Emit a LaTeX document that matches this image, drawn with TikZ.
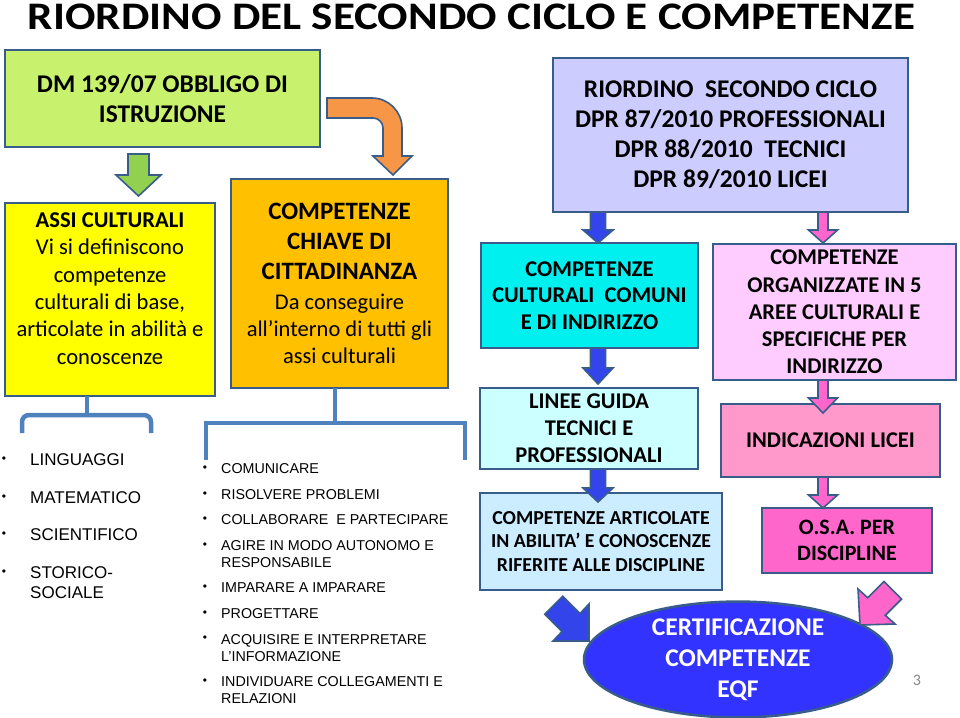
\documentclass[tikz,border=0pt]{standalone}
\usepackage{fontspec}
\setmainfont{Carlito}
\newfontfamily\arialf{Liberation Sans}
\usetikzlibrary{shapes.geometric}
\definecolor{bord}{RGB}{56,93,138}
\definecolor{brc}{RGB}{79,129,189}
\definecolor{dmgreen}{RGB}{200,242,110}
\definecolor{arrgreen}{RGB}{146,208,80}
\definecolor{yel}{RGB}{255,255,0}
\definecolor{orabox}{RGB}{255,192,0}
\definecolor{oraarr}{RGB}{247,150,70}
\definecolor{lav}{RGB}{204,204,255}
\definecolor{cyanbox}{RGB}{0,240,240}
\definecolor{lpink}{RGB}{255,204,255}
\definecolor{lcyan}{RGB}{204,255,255}
\definecolor{mpink}{RGB}{255,153,204}
\definecolor{lblue}{RGB}{204,236,255}
\definecolor{hpink}{RGB}{255,102,204}
\definecolor{ellblue}{RGB}{51,51,255}
\definecolor{arrblue}{RGB}{51,68,235}
\definecolor{pgray}{RGB}{137,137,137}
\newcommand{\dnarrow}[7]{%
  \draw[blockarr, fill=#7] (#1-#5,#2) -- (#1+#5,#2) -- (#1+#5,#3) -- (#1+#6,#3) -- (#1,#4) -- (#1-#6,#3) -- (#1-#5,#3) -- cycle;}
\begin{document}
\begin{tikzpicture}[x=1pt,y=-1pt,
  box/.style={draw=bord, line width=2.5pt, inner sep=0pt, align=center},
  blockarr/.style={draw=bord, line width=1.6pt, line join=miter},
  bracestyle/.style={draw=brc, line width=4.5pt},
  litem/.style={anchor=west, inner sep=0pt, align=left, font=\arialf\fontsize{17}{20}\selectfont},
  ritem/.style={anchor=west, inner sep=0pt, align=left, font=\arialf\fontsize{14.3}{17}\selectfont},
  bul/.style={inner sep=0pt, font=\arialf\fontsize{12}{12}\selectfont}]
\useasboundingbox (0,0) rectangle (960,717);
\fill[white] (0,0) rectangle (960,717);

% title
\node[anchor=base, inner sep=0pt, xscale=1.156, font=\bfseries\fontsize{39}{39}\selectfont] (title) at (471.5,30) {RIORDINO DEL SECONDO CICLO E COMPETENZE};

% boxes
\node[box, fill=dmgreen, minimum width=315pt, minimum height=97pt, font=\bfseries\fontsize{25.5}{30}\selectfont] (dm) at (162.5,98.5) {DM 139/07 OBBLIGO DI\\ISTRUZIONE};
\node[box, fill=yel, minimum width=210pt, minimum height=193pt] (yb) at (110,299.5) {};
\node[inner sep=0pt, align=center, font=\fontsize{22.6}{27.4}\selectfont] (ybt) at (110,288.5) {\textbf{ASSI CULTURALI}\\Vi si definiscono\\competenze\\culturali di base,\\articolate in abilità e\\conoscenze};
\node[box, fill=orabox, minimum width=217pt, minimum height=209pt, font=\fontsize{22.5}{27}\selectfont] (ob) at (339.5,283.5) {{\bfseries\fontsize{25}{27}\selectfont COMPETENZE}\\[3pt]{\bfseries\fontsize{25}{27}\selectfont CHIAVE DI}\\[3pt]{\bfseries\fontsize{25}{27}\selectfont CITTADINANZA}\\[3pt]Da conseguire\\all’interno di tutti gli\\assi culturali};
\node[box, fill=lav, minimum width=355pt, minimum height=154pt, font=\bfseries\fontsize{25.5}{30}\selectfont] (dpr) at (730.5,135) {RIORDINO\ \ SECONDO CICLO\\DPR 87/2010 PROFESSIONALI\\DPR 88/2010\ \ TECNICI\\DPR 89/2010 LICEI};
\node[box, fill=cyanbox, minimum width=217pt, minimum height=105pt, font=\bfseries\fontsize{22.5}{26.5}\selectfont] (cy) at (589.5,295.5) {COMPETENZE\\CULTURALI\ \ COMUNI\\E DI INDIRIZZO};
\node[box, fill=lpink, minimum width=243pt, minimum height=136pt, font=\bfseries\fontsize{22.5}{27.2}\selectfont] (pk) at (834.5,312) {COMPETENZE\\ORGANIZZATE IN 5\\AREE CULTURALI E\\SPECIFICHE PER\\INDIRIZZO};
\node[box, fill=lcyan, minimum width=218pt, minimum height=81pt, font=\bfseries\fontsize{22.5}{27}\selectfont] (lg) at (589,428.5) {LINEE GUIDA\\TECNICI E\\PROFESSIONALI};
\node[box, fill=mpink, minimum width=219pt, minimum height=73pt, font=\bfseries\fontsize{22.5}{27}\selectfont] (ind) at (830.5,440.5) {INDICAZIONI LICEI};
\node[box, fill=lblue, minimum width=242pt, minimum height=97pt, font=\bfseries\fontsize{19.8}{23.5}\selectfont] (art) at (601,541.5) {COMPETENZE ARTICOLATE\\IN ABILITA’ E CONOSCENZE\\RIFERITE ALLE DISCIPLINE};
\node[box, fill=hpink, minimum width=170pt, minimum height=65pt, font=\bfseries\fontsize{22}{26}\selectfont] (osa) at (847,540.5) {O.S.A. PER\\DISCIPLINE};
\node[ellipse, draw=bord, line width=2.5pt, fill=ellblue, inner sep=0pt, minimum width=308pt, minimum height=111pt, align=center, text=white, font=\bfseries\fontsize{25.5}{31}\selectfont] (eqf) at (738,659.5) {CERTIFICAZIONE\\COMPETENZE\\EQF};

% green arrow
\draw[blockarr, fill=arrgreen] (128,154) -- (149,154) -- (149,175) -- (161,175) -- (138.5,196) -- (116,175) -- (128,175) -- cycle;
% orange bent arrow
\draw[blockarr, fill=oraarr] (327,98) -- (372,98) .. controls (388.5,98) and (402,111.5) .. (402,128) -- (402,156) -- (412,156) -- (393,175) -- (373,156) -- (383,156) -- (383,128) .. controls (383,122.5) and (378.5,118) .. (373,118) -- (327,118) -- cycle;

% blue down arrows
\dnarrow{598}{212}{230}{243}{7.5}{15}{arrblue}
\dnarrow{598}{348}{368}{384}{7.5}{15}{arrblue}
\dnarrow{598}{469}{488}{502}{7.5}{15}{arrblue}
% pink down arrows
\dnarrow{823}{212}{230}{243}{5}{14.5}{hpink}
\dnarrow{823}{380}{398}{413}{5}{14.5}{hpink}
\dnarrow{823}{477}{495}{508}{5}{14.5}{hpink}

% diagonal arrows
\draw[blockarr, fill=arrblue] (544.8,614.3) -- (562.8,596.3) -- (580,613.5) -- (589,604) -- (589,641) -- (553,641) -- (562,631.5) -- cycle;
\draw[blockarr, fill=hpink] (858,589) -- (867.7,597.7) -- (883.9,581.5) -- (901.5,599.1) -- (885.3,615.3) -- (895,624) -- (860,625) -- cycle;

% braces
\draw[bracestyle] (87,396) -- (87,415);
\draw[bracestyle, rounded corners=7pt] (22,433) -- (22,415) -- (151,415) -- (151,433);
\draw[bracestyle] (335,388) -- (335,423);
\draw[bracestyle] (206,460) -- (206,423) -- (465,423) -- (465,460);

% left list
\node[bul] (lb1) at (4,460) {•};
\node[litem] (l1) at (30,460) {LINGUAGGI};
\node[bul] (lb2) at (4,498) {•};
\node[litem] (l2) at (30,498) {MATEMATICO};
\node[bul] (lb3) at (4,535) {•};
\node[litem] (l3) at (30,535) {SCIENTIFICO};
\node[bul] (lb4) at (4,573) {•};
\node[litem] (l4) at (30,583) {STORICO-\\SOCIALE};

% right list
\node[bul] (rb1) at (205,469) {•};
\node[ritem] (r1) at (221,469) {COMUNICARE};
\node[bul] (rb2) at (205,495) {•};
\node[ritem] (r2) at (221,495) {RISOLVERE PROBLEMI};
\node[bul] (rb3) at (205,520) {•};
\node[ritem] (r3) at (221,520) {COLLABORARE\ \ E PARTECIPARE};
\node[bul] (rb4) at (205,546) {•};
\node[ritem] (r4) at (221,554.5) {AGIRE IN MODO AUTONOMO E\\RESPONSABILE};
\node[bul] (rb5) at (205,588) {•};
\node[ritem] (r5) at (221,588) {IMPARARE A IMPARARE};
\node[bul] (rb6) at (205,614) {•};
\node[ritem] (r6) at (221,614) {PROGETTARE};
\node[bul] (rb7) at (205,639) {•};
\node[ritem] (r7) at (221,648) {ACQUISIRE E INTERPRETARE\\L’INFORMAZIONE};
\node[bul] (rb8) at (205,682) {•};
\node[ritem] (r8) at (221,690.5) {INDIVIDUARE COLLEGAMENTI E\\RELAZIONI};

% page number
\node[text=pgray, inner sep=0pt, font=\fontsize{16}{16}\selectfont] (pg) at (917,680) {3};
\end{tikzpicture}
\end{document}
